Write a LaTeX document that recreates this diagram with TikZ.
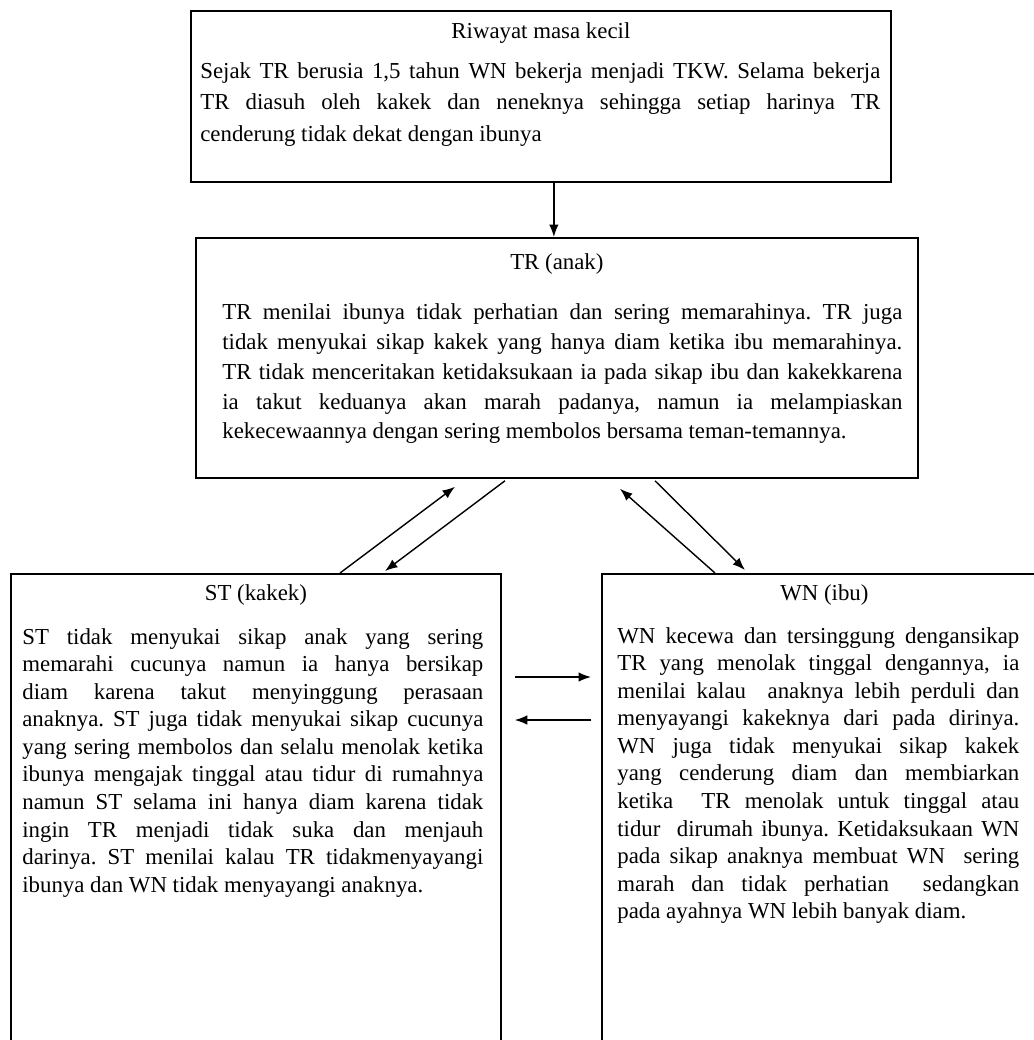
\documentclass[tikz,border=0pt]{standalone}
\usepackage{fontspec}
\setmainfont{Liberation Serif}
\usetikzlibrary{arrows.meta}
\frenchspacing

\tikzset{
  kotak/.style={draw, line width=1pt, inner sep=0pt, anchor=north west},
  judul/.style={font=\fontsize{13}{15.7}\selectfont, inner sep=0pt, anchor=base},
  isi/.style={font=\fontsize{13}{#1}\selectfont, align=justify, inner sep=0pt, anchor=base west},
  isi/.default=15.7,
  panah/.style={-{Latex[length=0.25cm,width=0.19cm]}, line width=0.8pt},
}

\begin{document}
\begin{tikzpicture}
    \useasboundingbox (0,0) rectangle (20.68,-20.8);
    \clip (0,0) rectangle (20.68,-20.8);
    % kotak
    \node[kotak, minimum width=14cm, minimum height=3.42cm] (riwayat) at (3.8,-0.2) {};
    \node[kotak, minimum width=14.44cm, minimum height=4.8cm] (anak) at (3.9,-4.74) {};
    \node[kotak, minimum width=9.8cm, minimum height=10cm] (kakek) at (0.2,-11.46) {};
    \node[kotak, minimum width=8.9cm, minimum height=10cm] (ibu) at (12.02,-11.46) {};
    % judul
    \node[judul] (riwayatjudul) at ([yshift=-0.56cm]riwayat.north) {Riwayat masa kecil};
    \node[judul] (anakjudul) at ([yshift=-0.64cm]anak.north) {TR (anak)};
    \node[judul] (kakekjudul) at ([yshift=-0.54cm]kakek.north) {ST (kakek)};
    \node[judul] (ibujudul) at ([yshift=-0.54cm]ibu.north) {WN (ibu)};
    % isi
    \node[isi=18.2, text width=13.6cm] (riwayatisi) at ([xshift=0.2cm,yshift=-1.36cm]riwayat.north west)
        {Sejak TR berusia 1,5 tahun WN bekerja menjadi TKW. Selama bekerja\linebreak
         TR diasuh oleh kakek dan neneknya sehingga setiap harinya TR\linebreak
         cenderung tidak dekat dengan ibunya};
    \node[isi=17.07, text width=13.6cm] (anakisi) at ([xshift=0.54cm,yshift=-1.64cm]anak.north west)
        {TR menilai ibunya tidak perhatian dan sering memarahinya. TR juga\linebreak
         tidak menyukai sikap kakek yang hanya diam ketika ibu memarahinya.\linebreak
         TR tidak menceritakan ketidaksukaan ia pada sikap ibu dan kakekkarena\linebreak
         ia takut keduanya akan marah padanya, namun ia melampiaskan\linebreak
         kekecewaannya dengan sering membolos bersama teman-temannya.};
    \node[isi, text width=9.22cm] (kakekisi) at ([xshift=0.24cm,yshift=-1.42cm]kakek.north west)
        {ST tidak menyukai sikap anak yang sering\linebreak
         memarahi cucunya namun ia hanya bersikap\linebreak
         diam karena takut menyinggung perasaan\linebreak
         anaknya. ST juga tidak menyukai sikap cucunya\linebreak
         yang sering membolos dan selalu menolak ketika\linebreak
         ibunya mengajak tinggal atau tidur di rumahnya\linebreak
         namun ST selama ini hanya diam karena tidak\linebreak
         ingin TR menjadi tidak suka dan menjauh\linebreak
         darinya. ST menilai kalau TR tidakmenyayangi\linebreak
         ibunya dan WN tidak menyayangi anaknya.};
    \node[isi, text width=8.04cm] (ibuisi) at ([xshift=0.32cm,yshift=-1.40cm]ibu.north west)
        {WN kecewa dan tersinggung dengansikap\linebreak
         TR yang menolak tinggal dengannya, ia\linebreak
         menilai kalau\ \ anaknya lebih perduli dan\linebreak
         menyayangi kakeknya dari pada dirinya.\linebreak
         WN juga tidak menyukai sikap kakek\linebreak
         yang cenderung diam dan membiarkan\linebreak
         ketika\ \ TR menolak untuk tinggal atau\linebreak
         tidur\ \ dirumah ibunya. Ketidaksukaan WN\linebreak
         pada sikap anaknya membuat WN\ \ sering\linebreak
         marah dan tidak perhatian\ \ sedangkan\linebreak
         pada ayahnya WN lebih banyak diam.};
    % panah
    \draw[panah] ([xshift=0.26cm]riwayat.south) -- ([xshift=0.26cm]riwayat.south |- anak.north);
    \draw[panah] ([xshift=6.6cm]kakek.north west) -- ([xshift=5.2cm,yshift=-0.16cm]anak.south west);
    \draw[panah] ([xshift=6.2cm,yshift=-0.04cm]anak.south west) -- ([xshift=7.5cm,yshift=0.04cm]kakek.north west);
    \draw[panah] ([xshift=2.28cm]ibu.north west) -- ([xshift=8.5cm,yshift=-0.2cm]anak.south west);
    \draw[panah] ([xshift=9.2cm,yshift=-0.04cm]anak.south west) -- ([xshift=2.88cm,yshift=0.06cm]ibu.north west);
    \draw[panah] ([xshift=0.26cm,yshift=-2.08cm]kakek.north east) -- ([xshift=-0.2cm,yshift=-2.08cm]ibu.north west);
    \draw[panah] ([xshift=-0.2cm,yshift=-2.94cm]ibu.north west) -- ([xshift=0.26cm,yshift=-2.94cm]kakek.north east);
\end{tikzpicture}
\end{document}
